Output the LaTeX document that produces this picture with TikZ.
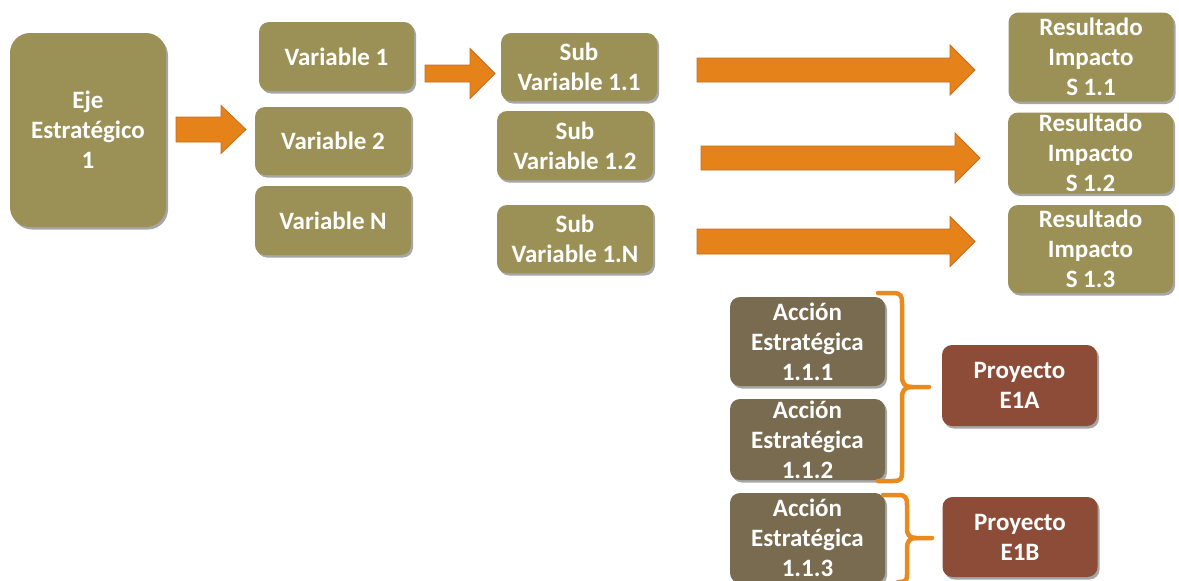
\documentclass[tikz,border=0pt]{standalone}
\usepackage{fontspec}
\setmainfont{Carlito}
\usetikzlibrary{shadows}
\definecolor{olive}{RGB}{155,145,86}
\definecolor{accbox}{RGB}{121,107,80}
\definecolor{proy}{RGB}{140,76,56}
\definecolor{arrfill}{RGB}{229,130,26}
\definecolor{arrline}{RGB}{196,110,30}
\definecolor{brace}{RGB}{233,138,30}
\tikzset{
  box/.style={rounded corners=10pt, fill=olive, text=white, align=center,
    font=\fontsize{25}{30}\selectfont\bfseries, inner sep=0pt,
    drop shadow={shadow xshift=2pt, shadow yshift=-2.5pt, opacity=0.35, fill=black}},
  olivebox/.style={box, fill=olive},
  accionbox/.style={box, fill=accbox},
  proybox/.style={box, fill=proy},
  blockarr/.style={fill=arrfill, draw=arrline, line width=0.8pt, line join=miter},
  bracestyle/.style={draw=brace, line width=4.5pt, line cap=round, line join=round}
}
% \barrow{x start}{x head base}{x tip}{y mid}{body half}{head half}
\newcommand{\barrow}[6]{%
  \path[blockarr] (#1,#4-#5) -- (#2,#4-#5) -- (#2,#4-#6) -- (#3,#4) -- (#2,#4+#6) -- (#2,#4+#5) -- (#1,#4+#5) -- cycle;}
\begin{document}
\begin{tikzpicture}[x=1pt,y=-1pt]
\useasboundingbox[fill=white] (0,0) rectangle (1179,581);

% nodes
\node[olivebox, rounded corners=20pt, minimum width=156pt, minimum height=194pt] (eje) at (88,130) {Eje\\Estratégico\\1};
\node[olivebox, minimum width=155pt, minimum height=69pt] (v1) at (336.5,56.5) {Variable 1};
\node[olivebox, minimum width=156pt, minimum height=68pt] (v2) at (333,141) {Variable 2};
\node[olivebox, minimum width=156pt, minimum height=69pt] (vn) at (333,220.5) {Variable N};

\node[olivebox, minimum width=156pt, minimum height=68pt] (s1) at (579,67) {Sub\\Variable 1.1};
\node[olivebox, minimum width=156pt, minimum height=69pt] (s2) at (575,145.5) {Sub\\Variable 1.2};
\node[olivebox, minimum width=156pt, minimum height=68pt] (sn) at (575,239) {Sub\\Variable 1.N};

\node[olivebox, minimum width=165pt, minimum height=89pt] (r1) at (1091,57) {Resultado\\Impacto\\S 1.1};
\node[olivebox, minimum width=165pt, minimum height=81pt] (r2) at (1090.5,153) {Resultado\\Impacto\\S 1.2};
\node[olivebox, minimum width=165pt, minimum height=88pt] (r3) at (1090.5,249) {Resultado\\Impacto\\S 1.3};

\node[accionbox, minimum width=155pt, minimum height=89pt] (a1) at (807.5,341.5) {Acción\\Estratégica\\1.1.1};
\node[accionbox, minimum width=155pt, minimum height=81pt] (a2) at (807.5,439.5) {Acción\\Estratégica\\1.1.2};
\node[accionbox, minimum width=155pt, minimum height=90pt] (a3) at (807.5,538) {Acción\\Estratégica\\1.1.3};

\node[proybox, minimum width=155pt, minimum height=81pt] (pa) at (1019.5,385.5) {Proyecto\\E1A};
\node[proybox, minimum width=155pt, minimum height=80pt] (pb) at (1020,537) {Proyecto\\E1B};

% block arrows
\barrow{176}{221}{246}{129.5}{12.5}{24}
\barrow{425}{470}{495}{73.5}{8.5}{25}
\barrow{697}{950}{975}{70}{12}{25}
\barrow{701}{955}{980}{158}{12}{25}
\barrow{697}{950}{975}{241.5}{12.5}{25}

% braces
\path[bracestyle] (878,293) -- (893,293) .. controls (901,293) and (902,296) .. (902,303)
  -- (902,376) .. controls (902,384) and (905,387) .. (912,387) -- (929,387);
\path[bracestyle] (912,387) .. controls (905,387) and (902,390) .. (902,398)
  -- (902,472) .. controls (902,479) and (901,481) .. (893,481) -- (878,481);
\path[bracestyle] (883,495) -- (898,495) .. controls (906,495) and (907,498) .. (907,505)
  -- (907,529) .. controls (907,535) and (910,538) .. (916,538) -- (932,538);
\path[bracestyle] (916,538) .. controls (910,538) and (907,541) .. (907,548)
  -- (907,575) .. controls (907,581) and (905,582) .. (898,582);
\end{tikzpicture}
\end{document}
